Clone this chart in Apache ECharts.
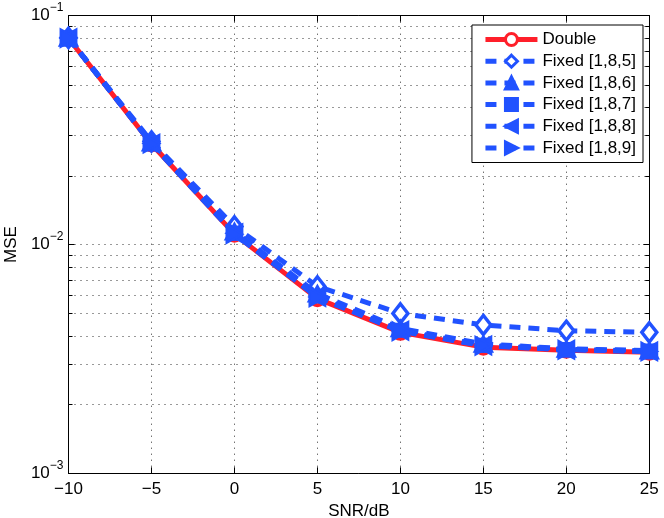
<!DOCTYPE html>
<html><head><meta charset="utf-8">
<script src="https://cdn.jsdelivr.net/npm/echarts@6/dist/echarts.min.js"></script>
<style>html,body{margin:0;padding:0;background:#fff}#c{width:664px;height:518px}</style>
</head><body><div id="c"></div>
<script>
const snr = [-10, -5, 0, 5, 10, 15, 20, 25];
const mseDouble = [0.0797, 0.0275, 0.0111, 0.00580, 0.00413, 0.00356, 0.00345, 0.00338];
const mseF185 = [0.0800, 0.0282, 0.0120, 0.00656, 0.00500, 0.00445, 0.00420, 0.00413];
const mseF186 = [0.0800, 0.0279, 0.0114, 0.00610, 0.00430, 0.00368, 0.00350, 0.00344];
const mseF187 = [0.0799, 0.0277, 0.0112, 0.00595, 0.00422, 0.00363, 0.00348, 0.00342];
const mseF188 = [0.0798, 0.0276, 0.0112, 0.00590, 0.00420, 0.00362, 0.00347, 0.00341];
const mseF189 = [0.0798, 0.0276, 0.0111, 0.00588, 0.00418, 0.00361, 0.00347, 0.00341];
const seriesNames = ['Double', 'Fixed [1,8,5]', 'Fixed [1,8,6]', 'Fixed [1,8,7]', 'Fixed [1,8,8]', 'Fixed [1,8,9]'];
const xMin = -10, xMax = 25, xStep = 5;
const yMin = 0.001, yMax = 0.1;
const minorY = [0.002,0.003,0.004,0.005,0.006,0.007,0.008,0.009,0.02,0.03,0.04,0.05,0.06,0.07,0.08,0.09];

const RED = '#ff1f2a', BLUE = '#2152ff';
const FONT = 'Liberation Sans, Arial, Helvetica, sans-serif';
const dash = [11, 8];
const LW = 5;

function mk(name, vals, opt) {
  return Object.assign({
    name: name, type: 'line', xAxisIndex: 0, yAxisIndex: 0,
    data: snr.map((x, i) => [x, vals[i]]),
    showAllSymbol: true, animation: false, silent: true
  }, opt);
}

const series = [
  {
    type: 'custom', xAxisIndex: 0, yAxisIndex: 0, silent: true, z: 1, animation: false,
    data: minorY.map(v => [xMin, v]),
    renderItem: function (params, api) {
      const v = api.value(1);
      const p1 = api.coord([xMin, v]);
      const p2 = api.coord([xMax, v]);
      const y = Math.round(p1[1]) + 0.5;
      return { type: 'group', children: [
        { type: 'line', shape: { x1: p1[0], y1: y, x2: p2[0], y2: y }, style: { stroke: '#333', lineWidth: 1, lineDash: [1, 5] } },
        { type: 'line', shape: { x1: p1[0], y1: y, x2: p1[0] + 4, y2: y }, style: { stroke: '#000', lineWidth: 1 } },
        { type: 'line', shape: { x1: p2[0] - 4, y1: y, x2: p2[0], y2: y }, style: { stroke: '#000', lineWidth: 1 } }
      ]};
    }
  },
  mk(seriesNames[0], mseDouble, { z: 3, symbol: 'circle', symbolSize: 13,
    lineStyle: { color: RED, width: LW }, itemStyle: { color: '#fff', borderColor: RED, borderWidth: 4 } }),
  mk(seriesNames[1], mseF185, { z: 4, symbol: 'diamond', symbolSize: [15, 19],
    lineStyle: { color: BLUE, width: LW, type: dash }, itemStyle: { color: '#fff', borderColor: BLUE, borderWidth: 3.5 } }),
  mk(seriesNames[2], mseF186, { z: 5, symbol: 'triangle', symbolSize: [18, 16],
    lineStyle: { color: BLUE, width: LW, type: dash }, itemStyle: { color: BLUE, borderColor: BLUE, borderWidth: 2 } }),
  mk(seriesNames[3], mseF187, { z: 6, symbol: 'rect', symbolSize: 13,
    lineStyle: { color: BLUE, width: LW, type: dash }, itemStyle: { color: BLUE, borderColor: BLUE, borderWidth: 2 } }),
  mk(seriesNames[4], mseF188, { z: 7, symbol: 'triangle', symbolRotate: 90, symbolSize: [18, 16],
    lineStyle: { color: BLUE, width: LW, type: dash }, itemStyle: { color: BLUE, borderColor: BLUE, borderWidth: 2 } }),
  mk(seriesNames[5], mseF189, { z: 8, symbol: 'triangle', symbolRotate: -90, symbolSize: [18, 16],
    lineStyle: { color: BLUE, width: LW, type: dash }, itemStyle: { color: BLUE, borderColor: BLUE, borderWidth: 2 } })
];

const gridLine = { show: true, lineStyle: { color: '#333', width: 1, type: [1, 5] } };
const axisLine = { show: true, onZero: false, lineStyle: { color: '#000', width: 1 } };

const option = {
  backgroundColor: '#fff',
  animation: false,
  textStyle: { fontFamily: FONT },
  grid: { left: 68.5, right: 14.7, top: 15.7, bottom: 44.7, containLabel: false, outerBoundsMode: 'none' },
  legend: {
    data: seriesNames, orient: 'vertical', right: 21, top: 25,
    padding: [6, 7, 6, 11], itemGap: 4.7, itemWidth: 52, itemHeight: 15,
    backgroundColor: '#fff', borderColor: '#000', borderWidth: 1, borderRadius: 0,
    lineStyle: { width: 5 }, itemStyle: { borderWidth: 3 },
    textStyle: { fontSize: 17, color: '#000', fontFamily: FONT, lineHeight: 17 },
    selectedMode: false
  },
  xAxis: [
    { type: 'value', min: xMin, max: xMax, interval: xStep, position: 'bottom',
      axisLine: axisLine, axisTick: { show: true, inside: true, length: 6, lineStyle: { color: '#000' } },
      axisLabel: { color: '#000', fontSize: 17, margin: 8, fontFamily: FONT,
        formatter: v => String(v).replace('-', '\u2212') },
      splitLine: gridLine,
      name: 'SNR/dB', nameLocation: 'middle', nameGap: 26,
      nameTextStyle: { color: '#000', fontSize: 17, fontFamily: FONT } },
    { type: 'value', min: xMin, max: xMax, interval: xStep, position: 'top',
      axisLine: axisLine, axisTick: { show: true, inside: true, length: 6, lineStyle: { color: '#000' } },
      axisLabel: { show: false }, splitLine: { show: false } }
  ],
  yAxis: [
    { type: 'log', logBase: 10, min: yMin, max: yMax, position: 'left',
      axisLine: axisLine, axisTick: { show: true, inside: true, length: 6, lineStyle: { color: '#000' } },
      axisLabel: { color: '#000', margin: 5, fontFamily: FONT,
        formatter: v => '{b|10}{s|\u2212' + Math.round(-Math.log10(v)) + '}',
        rich: {
          b: { fontSize: 17, lineHeight: 28, color: '#000', fontFamily: FONT },
          s: { fontSize: 12, lineHeight: 12, verticalAlign: 'top', color: '#000', fontFamily: FONT }
        } },
      splitLine: gridLine, minorTick: { show: false }, minorSplitLine: { show: false },
      name: 'MSE', nameLocation: 'middle', nameGap: 46, nameRotate: 90,
      nameTextStyle: { color: '#000', fontSize: 17, fontFamily: FONT } },
    { type: 'log', logBase: 10, min: yMin, max: yMax, position: 'right',
      axisLine: axisLine, axisTick: { show: true, inside: true, length: 6, lineStyle: { color: '#000' } },
      axisLabel: { show: false }, splitLine: { show: false } }
  ],
  series: series
};

const chart = echarts.init(document.getElementById('c'));
chart.setOption(option);
</script>
</body></html>
